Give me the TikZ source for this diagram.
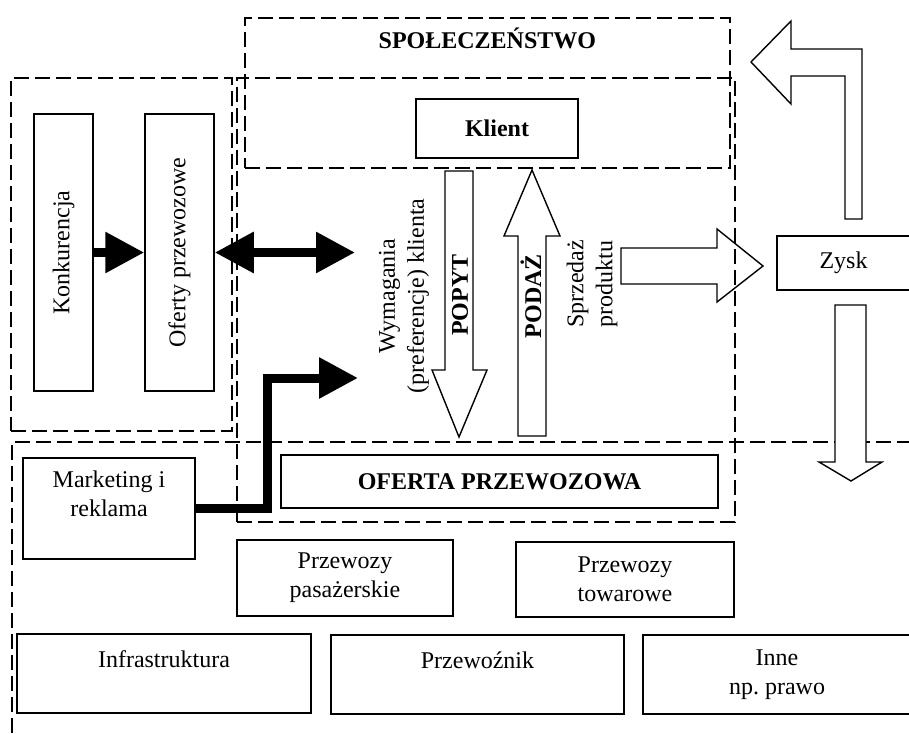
\documentclass[tikz,border=0pt]{standalone}
\usepackage{fontspec}
\setmainfont{Liberation Serif}
\usetikzlibrary{arrows.meta, positioning}
\newcommand{\diagfont}{\fontsize{12}{14.5}\selectfont}
\tikzset{
	region/.style={draw, dash pattern=on 7.5pt off 3pt, line width=0.85pt, inner sep=0pt},
	plainbox/.style={draw, line width=0.75pt, font=\diagfont, align=center, inner sep=0pt},
	fatarr/.style={line width=4.5pt, -{Triangle[length=19.5pt, width=19.5pt]}},
	hollowarr/.style={draw, line width=0.7pt, fill=white},
	vlabel/.style={font=\diagfont, align=center, rotate=90},
}

\begin{document}
\begin{tikzpicture}[x=0.5pt, y=-0.5pt]
	\useasboundingbox (0,0) rectangle (909,733);
	\clip (0,0) rectangle (909,733);
	% dashed regions
	\node[region, minimum width=242.5pt, minimum height=75pt, anchor=north west] (spol) at (244,17) {};
	\node[region, minimum width=110.5pt, minimum height=176.5pt, anchor=north west] (konkreg) at (10,77) {};
	\node[region, minimum width=249pt, minimum height=222pt, anchor=north west] (rynek) at (236,77) {};
	\node[region, minimum width=460pt, minimum height=160pt, anchor=north west] (otoczenie) at (11,441) {};
	\node[font=\diagfont\bfseries, anchor=base] (spoltxt) at ([yshift=-16pt]spol.north) {SPOŁECZEŃSTWO};
	% boxes
	\node[plainbox, font=\diagfont\bfseries, minimum width=81pt, minimum height=29.5pt] (klient) at (497,128.5) {Klient};
	\node[plainbox, rotate=90, minimum width=138.5pt, minimum height=29.5pt] (konk) at (63.5,252.5) {Konkurencja};
	\node[plainbox, rotate=90, minimum width=138.5pt, minimum height=34.5pt] (oferty) at (179.5,252.5) {Oferty przewozowe};
	\node[plainbox, minimum width=66.5pt, minimum height=27pt] (zysk) at (843.5,263) {Zysk};
	\node[plainbox, font=\diagfont\bfseries, minimum width=218.5pt, minimum height=26.5pt] (oferta) at (499.5,481.5) {OFERTA PRZEWOZOWA};
	\node[plainbox, minimum width=86pt, minimum height=50.5pt] (mark) at (109,508.5) {Marketing i\\reklama\\\mbox{}};
	\node[plainbox, minimum width=108pt, minimum height=38pt] (pasaz) at (345,578) {Przewozy\\pasażerskie};
	\node[plainbox, minimum width=109pt, minimum height=37.5pt] (towar) at (625,579.5) {Przewozy\\towarowe};
	\node[plainbox, minimum width=147pt, minimum height=39.5pt] (infra) at (164,673.5) {Infrastruktura\\\mbox{}};
	\node[plainbox, minimum width=146.5pt, minimum height=39.5pt] (przew) at (477.5,674.5) {Przewoźnik\\\mbox{}};
	\node[plainbox, minimum width=134pt, minimum height=39.5pt] (inne) at (777,674.5) {Inne\\np.\ prawo};
	% hollow arrows
	\draw[hollowarr] (445,171) -- (473,171) -- (473,370) -- (487,370) -- (459,437) -- (432,370) -- (445,370) -- cycle;
	\draw[hollowarr] (518,436) -- (546,436) -- (546,236) -- (560,236) -- (532,170) -- (504,236) -- (518,236) -- cycle;
	\draw[hollowarr, fill=none] (621,248) -- (717,248) -- (717,229) -- (763,266) -- (717,302) -- (717,284) -- (621,284) -- cycle;
	\draw[hollowarr] (845,219) -- (845,76) -- (791,76) -- (791,104) -- (751,62) -- (791,21) -- (791,49) -- (862,49) -- (862,219) -- cycle;
	\draw[hollowarr] (835,305) -- (866,305) -- (866,462) -- (882,462) -- (851,481) -- (819,462) -- (835,462) -- cycle;
	\node[vlabel] (wymag) at (404,296) {Wymagania\\(preferencje) klienta};
	\node[vlabel, font=\diagfont\bfseries] (popyt) at (460,295) {POPYT};
	\node[vlabel, font=\diagfont\bfseries] (podaz) at (531,296) {PODAŻ};
	\node[vlabel] (sprzed) at (592,284) {Sprzedaż\\produktu};
	% black arrows
	\coordinate (wymagin) at (355,252.5);
	\coordinate (markin) at (358,378);
	\draw[fatarr] (konk) -- (oferty);
	\draw[fatarr, {Triangle[length=19.5pt, width=19.5pt]}-{Triangle[length=19.5pt, width=19.5pt]}] (oferty) -- (wymagin);
	\draw[fatarr] (mark.east) -- ++(72,0) |- (markin);
\end{tikzpicture}
\end{document}
